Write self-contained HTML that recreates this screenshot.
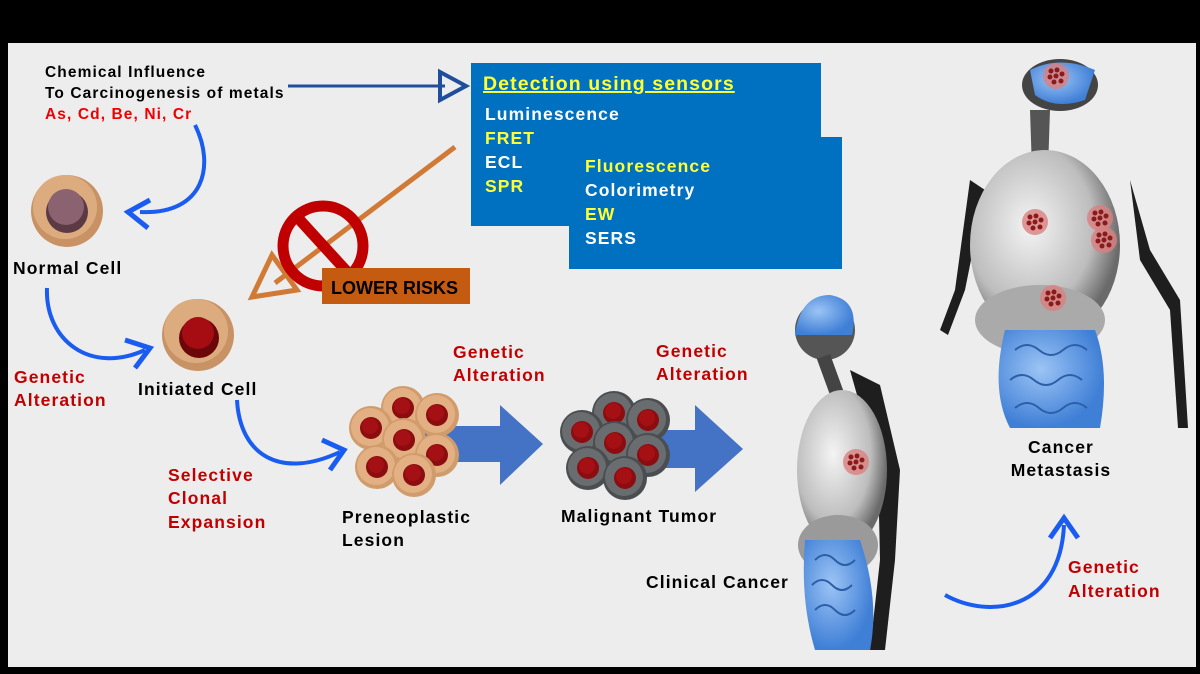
<!DOCTYPE html>
<html><head><meta charset="utf-8"><style>
html,body{margin:0;padding:0;background:#000;}
svg{display:block}
text{font-family:"Liberation Sans",sans-serif;font-weight:bold;letter-spacing:1.1px;}
</style></head><body>
<svg width="1200" height="674" viewBox="0 0 1200 674" xmlns="http://www.w3.org/2000/svg">
<defs>
<radialGradient id="gb" cx="40%" cy="40%" r="60%"><stop offset="0" stop-color="#f4f4f4"/><stop offset="0.7" stop-color="#bdbdbd"/><stop offset="1" stop-color="#6a6a6a"/></radialGradient>
<radialGradient id="bl" cx="40%" cy="40%" r="60%"><stop offset="0" stop-color="#9cc4f5"/><stop offset="1" stop-color="#3f7fd6"/></radialGradient>
<g id="pc"><circle r="22" fill="#d19c6c"/><circle r="19" cx="-1" cy="-1" fill="#e2b083"/><circle r="11" fill="#8b0d10"/><circle r="8" cx="-1" cy="-2" fill="#a51014"/></g>
<g id="mc"><circle r="22" fill="#4b4e51"/><circle r="19" cx="-1" cy="-1" fill="#6a6d70"/><circle r="11" fill="#8b0d10"/><circle r="8" cx="-1" cy="-2" fill="#a51014"/></g>
<g id="tum"><circle r="13" fill="#d98080" opacity="0.8"/><g fill="#8b1a1a"><circle cx="-5" cy="-5" r="2.5"/><circle cx="1" cy="-6" r="2.5"/><circle cx="6" cy="-2" r="2.5"/><circle cx="-6" cy="1" r="2.5"/><circle cx="0" cy="0" r="2.5"/><circle cx="5" cy="5" r="2.5"/><circle cx="-2" cy="6" r="2.5"/></g></g>
</defs>
<rect x="8" y="43" width="1188" height="624" fill="#ededed"/>

<text x="45" y="77" font-size="15.5" fill="#000">Chemical Influence</text>
<text x="45" y="98" font-size="15.5" fill="#000">To Carcinogenesis of metals</text>
<text x="45" y="119" font-size="15.5" fill="#e00">As, Cd, Be, Ni, Cr</text>
<line x1="288" y1="86" x2="445" y2="86" stroke="#1f4e9c" stroke-width="3"/>
<path d="M440 72 L466 86 L440 100 Z" fill="none" stroke="#1f4e9c" stroke-width="4"/>

<rect x="471" y="63" width="350" height="163" fill="#0070c0"/>
<rect x="569" y="137" width="273" height="132" fill="#0070c0"/>
<text x="483" y="90" font-size="19.5" fill="#ffff33" text-decoration="underline">Detection using sensors</text>
<text x="485" y="120" font-size="17.5" fill="#fff">Luminescence</text>
<text x="485" y="144" font-size="17.5" fill="#ffff33">FRET</text>
<text x="485" y="168" font-size="17.5" fill="#fff">ECL</text>
<text x="485" y="192" font-size="17.5" fill="#ffff33">SPR</text>
<text x="585" y="172" font-size="17.5" fill="#ffff33">Fluorescence</text>
<text x="585" y="196" font-size="17.5" fill="#fff">Colorimetry</text>
<text x="585" y="220" font-size="17.5" fill="#ffff33">EW</text>
<text x="585" y="244" font-size="17.5" fill="#fff">SERS</text>

<line x1="455" y1="147" x2="275" y2="283" stroke="#d07a36" stroke-width="5"/>
<path d="M272 255 L252 297 L297 290 Z" fill="none" stroke="#d07a36" stroke-width="5"/>
<circle cx="323" cy="246" r="40" fill="none" stroke="#c00000" stroke-width="11"/>
<line x1="298" y1="218" x2="350" y2="275" stroke="#c00000" stroke-width="11"/>
<rect x="322" y="268" width="148" height="36" fill="#c55a11"/>
<text x="331" y="294" font-size="18" fill="#000" style="letter-spacing:0">LOWER RISKS</text>

<circle cx="67" cy="211" r="36" fill="#c99265"/>
<circle cx="65" cy="207" r="32" fill="#dcac7f"/>
<circle cx="67" cy="212" r="21" fill="#5b3a44"/>
<circle cx="66" cy="207" r="18" fill="#8a6270"/>
<text x="13" y="274" font-size="17.5" fill="#000">Normal Cell</text>
<path d="M195 125 C215 165 205 215 140 212" fill="none" stroke="#1a5cf0" stroke-width="4"/>
<path d="M150 200 L128 212 L148 228" fill="none" stroke="#1a5cf0" stroke-width="5"/>

<circle cx="198" cy="335" r="36" fill="#c99265"/>
<circle cx="196" cy="331" r="32" fill="#dcac7f"/>
<circle cx="199" cy="338" r="20" fill="#6b0609"/>
<circle cx="198" cy="333" r="16" fill="#a50d12"/>
<text x="138" y="395" font-size="17.5" fill="#000">Initiated Cell</text>
<path d="M47 288 C45 340 90 375 145 350" fill="none" stroke="#1a5cf0" stroke-width="4"/>
<path d="M125 340 L150 348 L135 368" fill="none" stroke="#1a5cf0" stroke-width="5"/>
<text x="14" y="383" font-size="17.5" fill="#c00000">Genetic</text>
<text x="14" y="406" font-size="17.5" fill="#c00000">Alteration</text>
<path d="M237 400 C240 455 280 480 340 452" fill="none" stroke="#1a5cf0" stroke-width="4"/>
<path d="M322 440 L344 450 L330 470" fill="none" stroke="#1a5cf0" stroke-width="5"/>
<text x="168" y="481" font-size="17.5" fill="#c00000">Selective</text>
<text x="168" y="504" font-size="17.5" fill="#c00000">Clonal</text>
<text x="168" y="528" font-size="17.5" fill="#c00000">Expansion</text>

<path d="M385 426 L500 426 L500 405 L543 444 L500 485 L500 462 L385 462 Z" fill="#4472c4"/>
<path d="M590 430 L695 430 L695 405 L743 449 L695 492 L695 468 L590 468 Z" fill="#4472c4"/>
<use href="#pc" x="403" y="408"/><use href="#pc" x="371" y="428"/><use href="#pc" x="437" y="415"/>
<use href="#pc" x="404" y="440"/><use href="#pc" x="437" y="455"/><use href="#pc" x="377" y="467"/><use href="#pc" x="414" y="475"/>
<use href="#mc" x="614" y="413"/><use href="#mc" x="582" y="432"/><use href="#mc" x="648" y="420"/>
<use href="#mc" x="615" y="443"/><use href="#mc" x="648" y="455"/><use href="#mc" x="588" y="468"/><use href="#mc" x="625" y="478"/>
<text x="453" y="358" font-size="17.5" fill="#c00000">Genetic</text>
<text x="453" y="381" font-size="17.5" fill="#c00000">Alteration</text>
<text x="656" y="357" font-size="17.5" fill="#c00000">Genetic</text>
<text x="656" y="380" font-size="17.5" fill="#c00000">Alteration</text>
<text x="342" y="523" font-size="17.5" fill="#000">Preneoplastic</text>
<text x="342" y="546" font-size="17.5" fill="#000">Lesion</text>
<text x="561" y="522" font-size="17.5" fill="#000">Malignant Tumor</text>

<g>
<path d="M850 370 L880 385 L900 470 L895 560 L885 650 L870 650 L880 560 L878 470 Z" fill="#1e1e1e"/>
<ellipse cx="825" cy="330" rx="30" ry="30" fill="#555"/>
<path d="M795 335 Q800 295 830 295 Q860 300 852 335 Z" fill="url(#bl)"/>
<rect x="825" y="355" width="14" height="50" fill="#444" transform="rotate(-20 832 380)"/>
<ellipse cx="842" cy="470" rx="45" ry="80" fill="url(#gb)"/>
<ellipse cx="838" cy="545" rx="40" ry="30" fill="#9a9a9a"/>
<path d="M805 540 Q800 600 815 650 L870 650 Q880 600 860 540 Z" fill="url(#bl)"/>
<path d="M815 560 q10 -10 20 0 t20 0 M812 585 q10 -10 20 0 t20 0 M815 610 q10 -10 20 0 t20 0" fill="none" stroke="#2c5fa8" stroke-width="2"/>
<use href="#tum" x="856" y="462"/>
</g>
<text x="646" y="588" font-size="17.5" fill="#000">Clinical Cancer</text>

<g>
<path d="M970 180 L955 290 L940 330 L948 335 L965 290 L985 190 Z" fill="#1e1e1e"/>
<path d="M1130 180 L1150 250 L1180 300 L1188 428 L1178 428 L1170 310 L1140 260 Z" fill="#1e1e1e"/>
<path d="M1030 110 L1050 110 L1048 170 L1032 170 Z" fill="#555"/>
<ellipse cx="1060" cy="85" rx="38" ry="26" fill="#444"/>
<path d="M1030 70 Q1060 55 1095 70 L1085 100 Q1055 110 1035 95 Z" fill="url(#bl)"/>
<use href="#tum" x="1056" y="76"/>
<ellipse cx="1045" cy="245" rx="75" ry="95" fill="url(#gb)"/>
<ellipse cx="1040" cy="320" rx="65" ry="35" fill="#aaa"/>
<path d="M1005 330 Q990 390 1010 428 L1100 428 Q1110 370 1095 330 Z" fill="url(#bl)"/>
<path d="M1015 350 q12 -10 24 0 t24 0 t24 0 M1010 380 q12 -10 24 0 t24 0 t24 0 M1015 408 q12 -10 24 0 t24 0 t24 0" fill="none" stroke="#2c5fa8" stroke-width="2"/>
<use href="#tum" x="1035" y="222"/>
<use href="#tum" x="1100" y="218"/><use href="#tum" x="1104" y="240"/>
<use href="#tum" x="1053" y="298"/>
</g>
<text x="1061" y="453" font-size="17.5" fill="#000" text-anchor="middle">Cancer</text>
<text x="1061" y="476" font-size="17.5" fill="#000" text-anchor="middle">Metastasis</text>
<path d="M945 595 C990 620 1060 610 1064 525" fill="none" stroke="#1a5cf0" stroke-width="4"/>
<path d="M1050 538 L1064 518 L1078 538" fill="none" stroke="#1a5cf0" stroke-width="5"/>
<text x="1068" y="573" font-size="17.5" fill="#c00000">Genetic</text>
<text x="1068" y="597" font-size="17.5" fill="#c00000">Alteration</text>
</svg>
</body></html>
